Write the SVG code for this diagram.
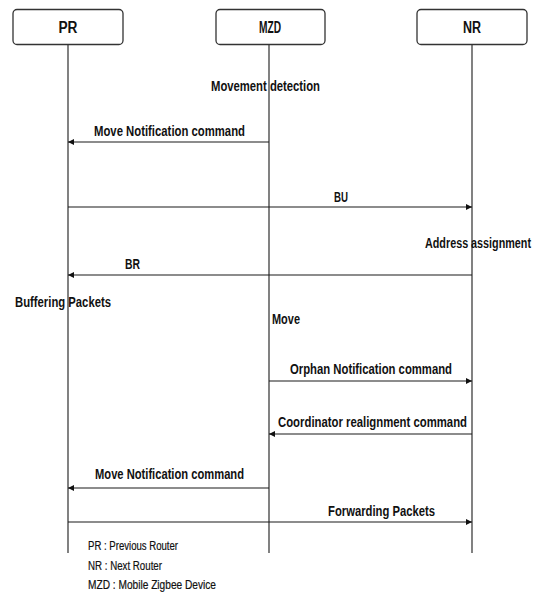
<svg xmlns="http://www.w3.org/2000/svg" width="540" height="594" viewBox="0 0 540 594">
  <style>
    .box { fill: #ffffff; stroke: #333333; stroke-width: 1.3; }
    .life { stroke: #1a1a1a; stroke-width: 1.1; fill: none; }
    .msg { stroke: #1a1a1a; stroke-width: 1.2; fill: none; marker-end: url(#ah); }
    .hdr { font-family: "Liberation Sans", Arial, sans-serif; font-weight: bold; font-size: 16px; fill: #111111; text-anchor: middle; }
    .lbl { font-family: "Liberation Sans", Arial, sans-serif; font-weight: bold; font-size: 14px; fill: #111111; }
    .leg { font-family: "Liberation Sans", Arial, sans-serif; font-size: 12px; fill: #111111; stroke: #111111; stroke-width: 0.2; }
  </style>
  <defs>
    <marker id="ah" viewBox="0 0 10 10" refX="10" refY="5" markerWidth="6" markerHeight="6" markerUnits="userSpaceOnUse" orient="auto">
      <path d="M0,0 L10,5 L0,10 z" fill="#111111"/>
    </marker>
  </defs>
  <rect width="540" height="594" fill="#ffffff"/>

  <g id="lifelines">
    <line class="life" x1="68" y1="45" x2="68" y2="553"/>
    <line class="life" x1="269" y1="45" x2="269" y2="553"/>
    <line class="life" x1="472" y1="45" x2="472" y2="553"/>
  </g>

  <g id="node-PR">
    <rect class="box" x="13" y="9.5" width="110" height="35" rx="4"/>
    <text class="hdr" x="68" y="33" textLength="19" lengthAdjust="spacingAndGlyphs">PR</text>
  </g>
  <g id="node-MZD">
    <rect class="box" x="216" y="9.5" width="109" height="35" rx="4"/>
    <text class="hdr" x="270" y="33" textLength="22" lengthAdjust="spacingAndGlyphs">MZD</text>
  </g>
  <g id="node-NR">
    <rect class="box" x="417" y="9.5" width="110" height="35" rx="4"/>
    <text class="hdr" x="472" y="33" textLength="18" lengthAdjust="spacingAndGlyphs">NR</text>
  </g>

  <g id="connectors">
    <line class="msg" x1="269" y1="142" x2="68" y2="142"/>
    <line class="msg" x1="68" y1="207" x2="472" y2="207"/>
    <line class="msg" x1="472" y1="275" x2="68" y2="275"/>
    <line class="msg" x1="269" y1="381" x2="472" y2="381"/>
    <line class="msg" x1="472" y1="434" x2="269" y2="434"/>
    <line class="msg" x1="269" y1="488" x2="68" y2="488"/>
    <line class="msg" x1="68" y1="522" x2="472" y2="522"/>
  </g>

  <g id="labels">
    <text class="lbl" x="211" y="91" textLength="109" lengthAdjust="spacingAndGlyphs">Movement detection</text>
    <text class="lbl" x="94" y="136" textLength="151" lengthAdjust="spacingAndGlyphs">Move Notification command</text>
    <text class="lbl" x="334" y="202" textLength="14" lengthAdjust="spacingAndGlyphs">BU</text>
    <text class="lbl" x="531" y="248" text-anchor="end" textLength="106" lengthAdjust="spacingAndGlyphs">Address assignment</text>
    <text class="lbl" x="125" y="269" textLength="15" lengthAdjust="spacingAndGlyphs">BR</text>
    <text class="lbl" x="15" y="307" textLength="96" lengthAdjust="spacingAndGlyphs">Buffering Packets</text>
    <text class="lbl" x="272" y="324" textLength="28" lengthAdjust="spacingAndGlyphs">Move</text>
    <text class="lbl" x="290" y="374" textLength="162" lengthAdjust="spacingAndGlyphs">Orphan Notification command</text>
    <text class="lbl" x="278" y="427" textLength="189" lengthAdjust="spacingAndGlyphs">Coordinator realignment command</text>
    <text class="lbl" x="95" y="479" textLength="149" lengthAdjust="spacingAndGlyphs">Move Notification command</text>
    <text class="lbl" x="328" y="516" textLength="107" lengthAdjust="spacingAndGlyphs">Forwarding Packets</text>
  </g>

  <g id="legend">
    <text class="leg" x="88" y="550" textLength="90" lengthAdjust="spacingAndGlyphs">PR : Previous Router</text>
    <text class="leg" x="88" y="570" textLength="74" lengthAdjust="spacingAndGlyphs">NR : Next Router</text>
    <text class="leg" x="88" y="589" textLength="128" lengthAdjust="spacingAndGlyphs">MZD : Mobile Zigbee Device</text>
  </g>
</svg>
